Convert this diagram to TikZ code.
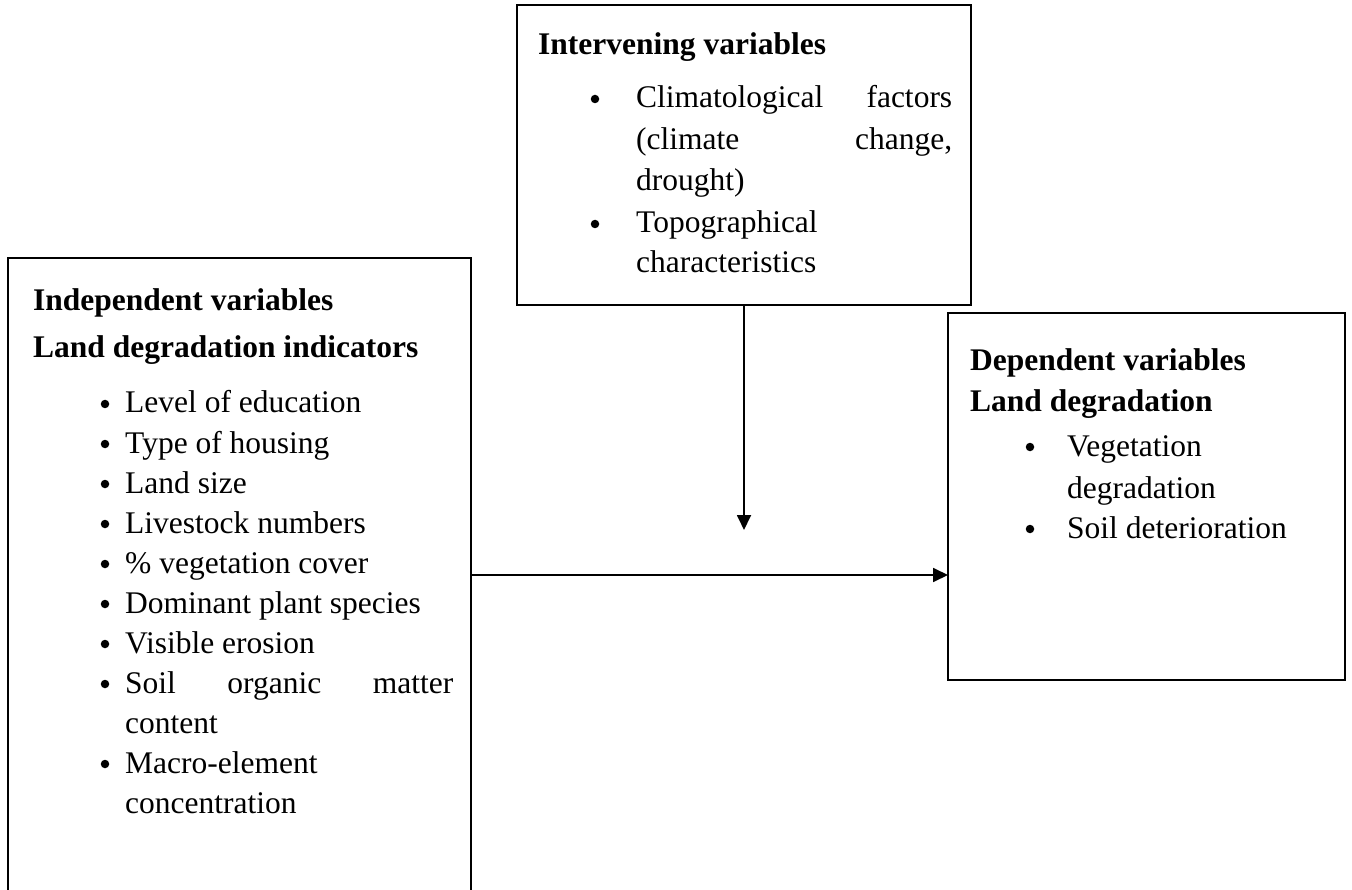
\documentclass[tikz,border=0pt]{standalone}
\usepackage{fontspec}
\setmainfont{Liberation Serif}
\usetikzlibrary{arrows.meta}
\begin{document}
\begin{tikzpicture}[x=1pt,y=-1pt,
  frame/.style={draw, line width=1.8pt, inner sep=0pt, outer sep=0pt, anchor=north west},
  txt/.style={anchor=base west, inner sep=0pt, font=\fontsize{31.5}{36}\selectfont},
  head/.style={anchor=base west, inner sep=0pt, font=\fontsize{31.5}{36}\selectfont\bfseries},
  bul/.style={circle, fill, inner sep=0pt, minimum size=8.5pt},
  conn/.style={line width=1.8pt, -{Triangle[length=15pt,width=14pt]}}]
\useasboundingbox (0,0) rectangle (1352,890);
\clip (0,0) rectangle (1352,890);
% boxes
\node[frame, minimum width=463pt, minimum height=700pt] (indep) at (8,258) {};
\node[frame, minimum width=454pt, minimum height=300pt] (inter) at (517,5) {};
\node[frame, minimum width=397pt, minimum height=367pt] (dep) at (948,313) {};
% intervening text
\node[head] (ih) at (538,55) {Intervening variables};
\node[bul] (ib1) at (595,99) {};
\node[txt] (i1) at (636,108) {\hbox to 316pt{Climatological\hfill factors}};
\node[txt] (i2) at (636,150) {\hbox to 316pt{(climate\hfill change,}};
\node[txt] (i3) at (636,191) {drought)};
\node[bul] (ib2) at (595,224) {};
\node[txt] (i4) at (636,233) {Topographical};
\node[txt] (i5) at (636,273) {characteristics};
% independent text
\node[head] (dh1) at (33,311) {Independent variables};
\node[head] (dh2) at (33,358) {Land degradation indicators};
\foreach \y/\t [count=\k] in {413/Level of education, 453/Type of housing, 493/Land size,
  533/Livestock numbers, 573/\% vegetation cover, 613/Dominant plant species,
  653/Visible erosion} {
  \node[bul] (lb\k) at (105,\y-9) {};
  \node[txt] (l\k) at (125,\y) {\t};
}
\node[bul] (lb8) at (105,684) {};
\node[txt] (l8) at (125,693) {\hbox to 328pt{Soil\hfill organic\hfill matter}};
\node[txt] (l8b) at (125,733) {content};
\node[bul] (lb9) at (105,764) {};
\node[txt] (l9) at (125,773) {Macro-element};
\node[txt] (l9b) at (125,813) {concentration};
% dependent text
\node[head] (rh1) at (970,371) {Dependent variables};
\node[head] (rh2) at (970,411) {Land degradation};
\node[bul] (rb1) at (1030,447) {};
\node[txt] (r1) at (1067,456) {Vegetation};
\node[txt] (r1b) at (1067,498) {degradation};
\node[bul] (rb2) at (1030,529) {};
\node[txt] (r2) at (1067,538) {Soil deterioration};
% connectors
\coordinate (vend) at (744,530);
\draw[conn] (inter.south) -- (vend);
\coordinate (hy) at (0,575);
\draw[conn] (indep.east |- hy) -- (dep.west |- hy);
\end{tikzpicture}
\end{document}
